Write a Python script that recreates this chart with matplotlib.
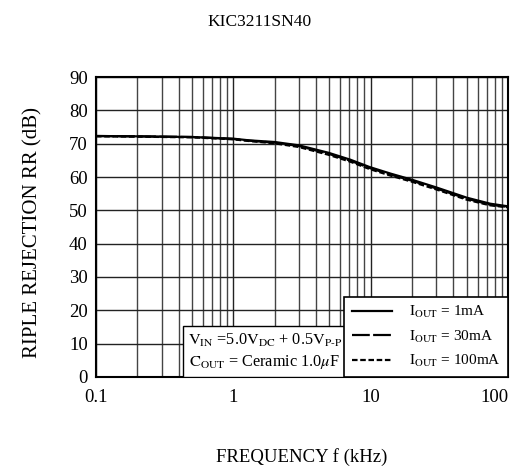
import numpy as np
import matplotlib.pyplot as plt
from matplotlib.lines import Line2D
from matplotlib.patches import Rectangle

plt.rcParams['font.family'] = 'Liberation Serif'
plt.rcParams['mathtext.fontset'] = 'stix'

# ripple rejection vs frequency (kHz)
freq = [0.1, 0.2, 0.5, 1.0, 1.3, 2.0, 3.0, 4.9, 7.1, 9.8, 14, 19.9, 30.4, 50, 74, 100]
rr_1ma = [72.3, 72.2, 72.0, 71.5, 71.0, 70.5, 69.5, 67.3, 65.2, 63.0, 61.0, 59.2, 56.8, 53.8, 52.0, 51.2]
rr_30ma = [72.3, 72.2, 72.0, 71.4, 70.9, 70.3, 69.3, 67.0, 64.9, 62.7, 60.7, 58.9, 56.5, 53.5, 51.7, 51.0]
rr_100ma = [72.2, 72.1, 71.9, 71.3, 70.8, 70.1, 69.0, 66.7, 64.6, 62.4, 60.4, 58.6, 56.2, 53.2, 51.5, 50.9]

styles = ['-', (0, (8, 1.5)), (0, (2.5, 1.2))]
labels = [r'$\mathrm{I_{OUT}}$ = 1mA', r'$\mathrm{I_{OUT}}$ = 30mA', r'$\mathrm{I_{OUT}}$ = 100mA']

fig = plt.figure(figsize=(5.2, 4.71), dpi=100)
ax = fig.add_axes([0.1846, 0.1996, 0.7924, 0.6369])

for rr, ls in zip([rr_1ma, rr_30ma, rr_100ma], styles):
    ax.plot(freq, rr, color='black', lw=1.6, ls=ls)

ax.set_xscale('log')
ax.set_xlim(0.1, 100)
ax.set_ylim(0, 90)
ax.set_yticks(np.arange(0, 91, 10))
ax.set_xticks([0.1, 1, 10, 100])
ax.set_xticklabels(['0.1', '1', '10', '100'])
ax.get_xticklabels()[-1].set_horizontalalignment('right')
ax.tick_params(which='both', length=0, labelsize=13.5)
ax.tick_params(axis='x', pad=9)
ax.tick_params(axis='y', pad=6)
ax.grid(True, which='major', color='#222222', lw=1.0)
ax.grid(True, which='minor', axis='x', color='#444444', lw=1.0)
for s in ax.spines.values():
    s.set_linewidth(1.5)

ax.set_ylabel('RIPLE REJECTION RR (dB)', fontsize=15)
ax.yaxis.set_label_coords(-0.13, 0.48)
ax.set_xlabel('FREQUENCY f (kHz)', fontsize=13.5, labelpad=30)
fig.text(0.5, 0.953, 'KIC3211SN40', ha='center', va='center', fontsize=12.5)

handles = [Line2D([], [], color='black', lw=1.6, ls=ls) for ls in styles]
leg = ax.legend(handles, labels, loc='lower right', bbox_to_anchor=(1.0, 0.0),
                fontsize=11, frameon=True, fancybox=False, edgecolor='black',
                framealpha=1, handlelength=2.6, borderaxespad=0, labelspacing=0.55,
                borderpad=0.5, handletextpad=1.1)
leg.get_frame().set_linewidth(1.2)

# test conditions box, flush with the bottom axis
ax.add_patch(Rectangle((0.211, 0.0), 0.398, 0.17, transform=ax.transAxes,
                       fc='white', ec='black', lw=1.0, zorder=5))
ax.text(0.41, 0.123, r'$\mathrm{V_{IN}}$ =5.0$\mathrm{V_{DC}}$ + 0.5$\mathrm{V_{P\text{-}P}}$',
        transform=ax.transAxes, ha='center', va='center', fontsize=11.7, zorder=6)
ax.text(0.41, 0.05, r'$\mathrm{C_{OUT}}$ = Ceramic 1.0$\mu$F',
        transform=ax.transAxes, ha='center', va='center', fontsize=11.7, zorder=6)

fig.savefig('out.png', dpi=100)
